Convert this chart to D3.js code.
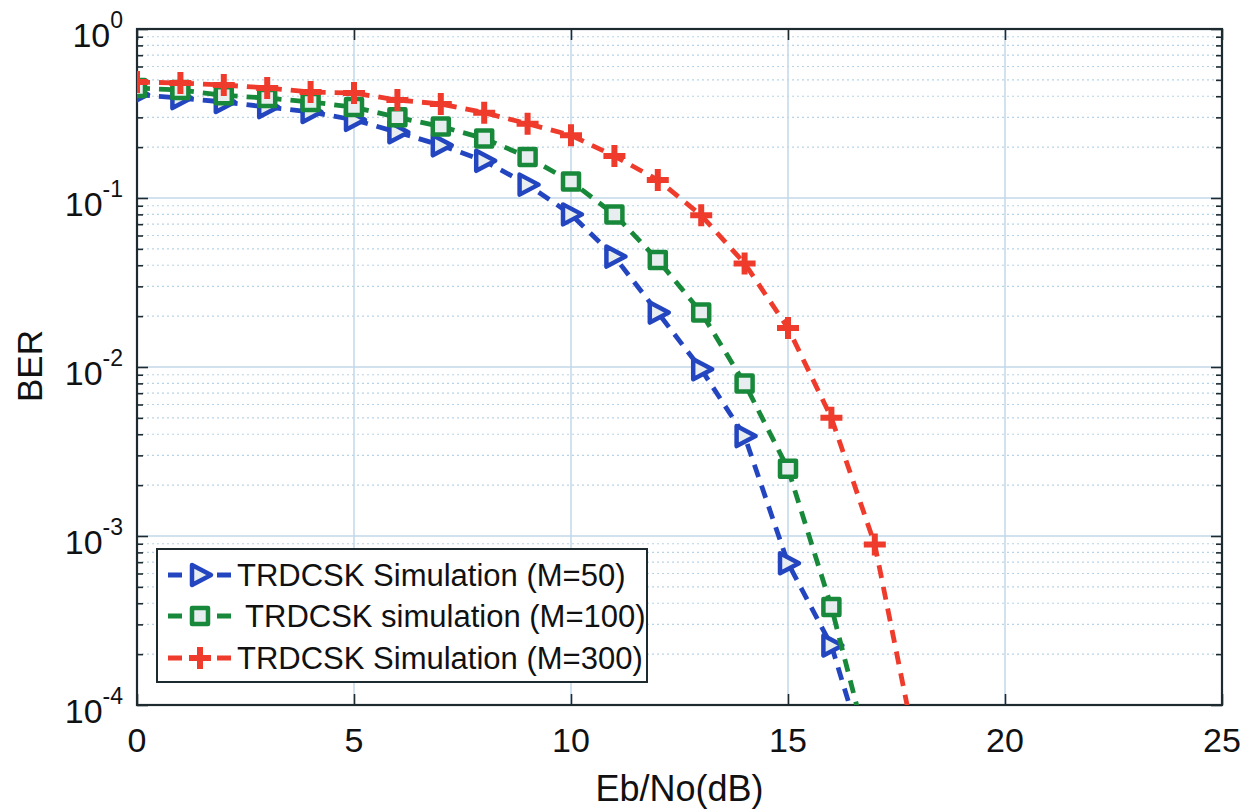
<!DOCTYPE html>
<html>
<head>
<meta charset="UTF-8">
<title>TRDCSK BER</title>
<script src="https://cdn.jsdelivr.net/npm/d3@7"></script>
<style>
  body { margin: 0; background: #fff; }
  text { font-family: "Liberation Sans", Arial, sans-serif; fill: #111; }
</style>
</head>
<body>
<script>
// values
var snr = [0, 1, 2, 3, 4, 5, 6, 7, 8, 9, 10, 11, 12, 13, 14, 15, 16, 17, 18];
var ber50 = [0.41, 0.39, 0.37, 0.345, 0.323, 0.29, 0.245, 0.205, 0.166, 0.12, 0.08, 0.045, 0.021, 0.0097, 0.0039, 6.9e-4, 2.25e-4, 3.2e-5];
var ber100 = [0.448, 0.435, 0.405, 0.39, 0.37, 0.345, 0.30, 0.265, 0.225, 0.175, 0.125, 0.08, 0.043, 0.021, 0.008, 0.0025, 3.8e-4, 3.8e-5];
var ber300 = [0.486, 0.479, 0.466, 0.448, 0.424, 0.418, 0.38, 0.36, 0.32, 0.275, 0.235, 0.177, 0.128, 0.079, 0.041, 0.017, 0.005, 8.9e-4, 4.7e-5];
var xTicks = [0, 5, 10, 15, 20, 25];
var yExps = [0, -1, -2, -3, -4];
var labels = ['TRDCSK Simulation (M=50)', ' TRDCSK simulation (M=100)', 'TRDCSK Simulation (M=300)'];

var W = 1253, H = 810;
// plot box (window.top is read-only, so keep these in an object)
var box = { l: 137, r: 1222, t: 29, b: 705 };

var svg = d3.select('body').append('svg')
  .attr('width', W).attr('height', H);

var x = d3.scaleLinear().domain([0, 25]).range([box.l, box.r]);
var y = d3.scaleLog().domain([1e-4, 1]).range([box.b, box.t]);

svg.append('defs').append('clipPath').attr('id', 'clip')
  .append('rect')
  .attr('x', box.l).attr('y', box.t)
  .attr('width', box.r - box.l).attr('height', box.b - box.t);

// minor values inside each decade
var minors = [];
yExps.slice(0, 4).forEach(function(e) {
  for (var k = 2; k <= 9; k++) minors.push(k * Math.pow(10, e - 1));
});

var grid = svg.append('g');
grid.selectAll('.minor').data(minors).enter().append('line')
  .attr('x1', box.l).attr('x2', box.r)
  .attr('y1', function(d) { return y(d); }).attr('y2', function(d) { return y(d); })
  .attr('stroke', '#b9d3e6').attr('stroke-width', 1.2)
  .attr('stroke-dasharray', '2,3');
grid.selectAll('.majy').data(yExps).enter().append('line')
  .attr('x1', box.l).attr('x2', box.r)
  .attr('y1', function(d) { return y(Math.pow(10, d)); })
  .attr('y2', function(d) { return y(Math.pow(10, d)); })
  .attr('stroke', '#c2d8e8').attr('stroke-width', 1.5);
grid.selectAll('.majx').data(xTicks).enter().append('line')
  .attr('y1', box.t).attr('y2', box.b)
  .attr('x1', function(d) { return x(d); }).attr('x2', function(d) { return x(d); })
  .attr('stroke', '#c2d8e8').attr('stroke-width', 1.5);

// axes, ticks inward
var yMajorVals = yExps.map(function(e) { return Math.pow(10, e); });
svg.append('g').attr('transform', 'translate(' + box.l + ',0)')
  .call(d3.axisRight(y).tickValues(yMajorVals).tickSize(11).tickFormat(''));
svg.append('g').attr('transform', 'translate(' + box.l + ',0)')
  .call(d3.axisRight(y).tickValues(minors).tickSize(6).tickFormat(''));
svg.append('g').attr('transform', 'translate(' + box.r + ',0)')
  .call(d3.axisLeft(y).tickValues(yMajorVals).tickSize(11).tickFormat(''));
svg.append('g').attr('transform', 'translate(' + box.r + ',0)')
  .call(d3.axisLeft(y).tickValues(minors).tickSize(6).tickFormat(''));
svg.append('g').attr('transform', 'translate(0,' + box.b + ')')
  .call(d3.axisTop(x).tickValues(xTicks).tickSize(11).tickFormat(''));
svg.append('g').attr('transform', 'translate(0,' + box.t + ')')
  .call(d3.axisBottom(x).tickValues(xTicks).tickSize(11).tickFormat(''));
svg.selectAll('.domain').remove();
svg.selectAll('.tick line').attr('stroke', '#1d2a30').attr('stroke-width', 1.6);

svg.append('rect')
  .attr('x', box.l).attr('y', box.t)
  .attr('width', box.r - box.l).attr('height', box.b - box.t)
  .attr('fill', 'none').attr('stroke', '#1d2a30').attr('stroke-width', 2.2);

// tick labels
svg.selectAll('.xl').data(xTicks).enter().append('text')
  .attr('x', function(d) { return x(d); }).attr('y', 752)
  .attr('text-anchor', 'middle').style('font-size', '34px')
  .text(function(d) { return d; });

var yl = svg.selectAll('.yl').data(yExps).enter().append('text')
  .attr('x', 123).attr('y', function(d) { return y(Math.pow(10, d)) + 18; })
  .attr('text-anchor', 'end').style('font-size', '34px');
yl.append('tspan').text('10');
yl.append('tspan').attr('dy', -19).style('font-size', '23px')
  .text(function(d) { return d === 0 ? '0' : '-' + (-d); });

svg.append('text')
  .attr('transform', 'translate(42,366) rotate(-90)')
  .attr('text-anchor', 'middle').style('font-size', '35px')
  .text('BER');
svg.append('text')
  .attr('x', (box.l + box.r) / 2).attr('y', 801)
  .attr('text-anchor', 'middle').style('font-size', '36px')
  .text('Eb/No(dB)');

// series
var series = [
  { ber: ber50, color: '#2346c0', shape: 'tri' },
  { ber: ber100, color: '#18893a', shape: 'sq' },
  { ber: ber300, color: '#ef3b2c', shape: 'plus' }
];

function markerPath(shape) {
  if (shape === 'tri') return 'M-8,-10L11,0L-8,10Z';
  if (shape === 'sq') return 'M-8,-8H8V8H-8Z';
  return 'M-11,0H11M0,-11V11';
}

var plot = svg.append('g').attr('clip-path', 'url(#clip)');
var line = d3.line()
  .x(function(d, i) { return x(snr[i]); })
  .y(function(d) { return y(d); });

series.forEach(function(s) {
  plot.append('path')
    .datum(s.ber)
    .attr('d', line)
    .attr('fill', 'none')
    .attr('stroke', s.color).attr('stroke-width', 4.8)
    .attr('stroke-dasharray', '13,9');
  plot.selectAll(null).data(s.ber).enter().append('path')
    .attr('transform', function(d, i) { return 'translate(' + x(snr[i]) + ',' + y(d) + ')'; })
    .attr('d', markerPath(s.shape))
    .attr('fill', s.shape === 'plus' ? 'none' : '#e8eef0')
    .attr('stroke', s.color)
    .attr('stroke-width', s.shape === 'plus' ? 6 : 4.5)
    .attr('stroke-linejoin', 'round');
});

// legend
var lg = svg.append('g');
lg.append('rect')
  .attr('x', 157).attr('y', 549).attr('width', 490).attr('height', 133)
  .attr('fill', '#fff').attr('stroke', '#1d2a30').attr('stroke-width', 2);
var rowY = [575, 616, 658];
series.forEach(function(s, i) {
  lg.append('line')
    .attr('x1', 168).attr('x2', 231)
    .attr('y1', rowY[i]).attr('y2', rowY[i])
    .attr('stroke', s.color).attr('stroke-width', 4.8)
    .attr('stroke-dasharray', '14,35,14');
  lg.append('path')
    .attr('transform', 'translate(200,' + rowY[i] + ')')
    .attr('d', markerPath(s.shape))
    .attr('fill', s.shape === 'plus' ? 'none' : '#e8eef0')
    .attr('stroke', s.color)
    .attr('stroke-width', s.shape === 'plus' ? 6 : 4.5)
    .attr('stroke-linejoin', 'round');
  lg.append('text')
    .attr('x', 237).attr('y', rowY[i] + 11)
    .style('font-size', '31px').style('white-space', 'pre')
    .text(labels[i]);
});
</script>
</body>
</html>
